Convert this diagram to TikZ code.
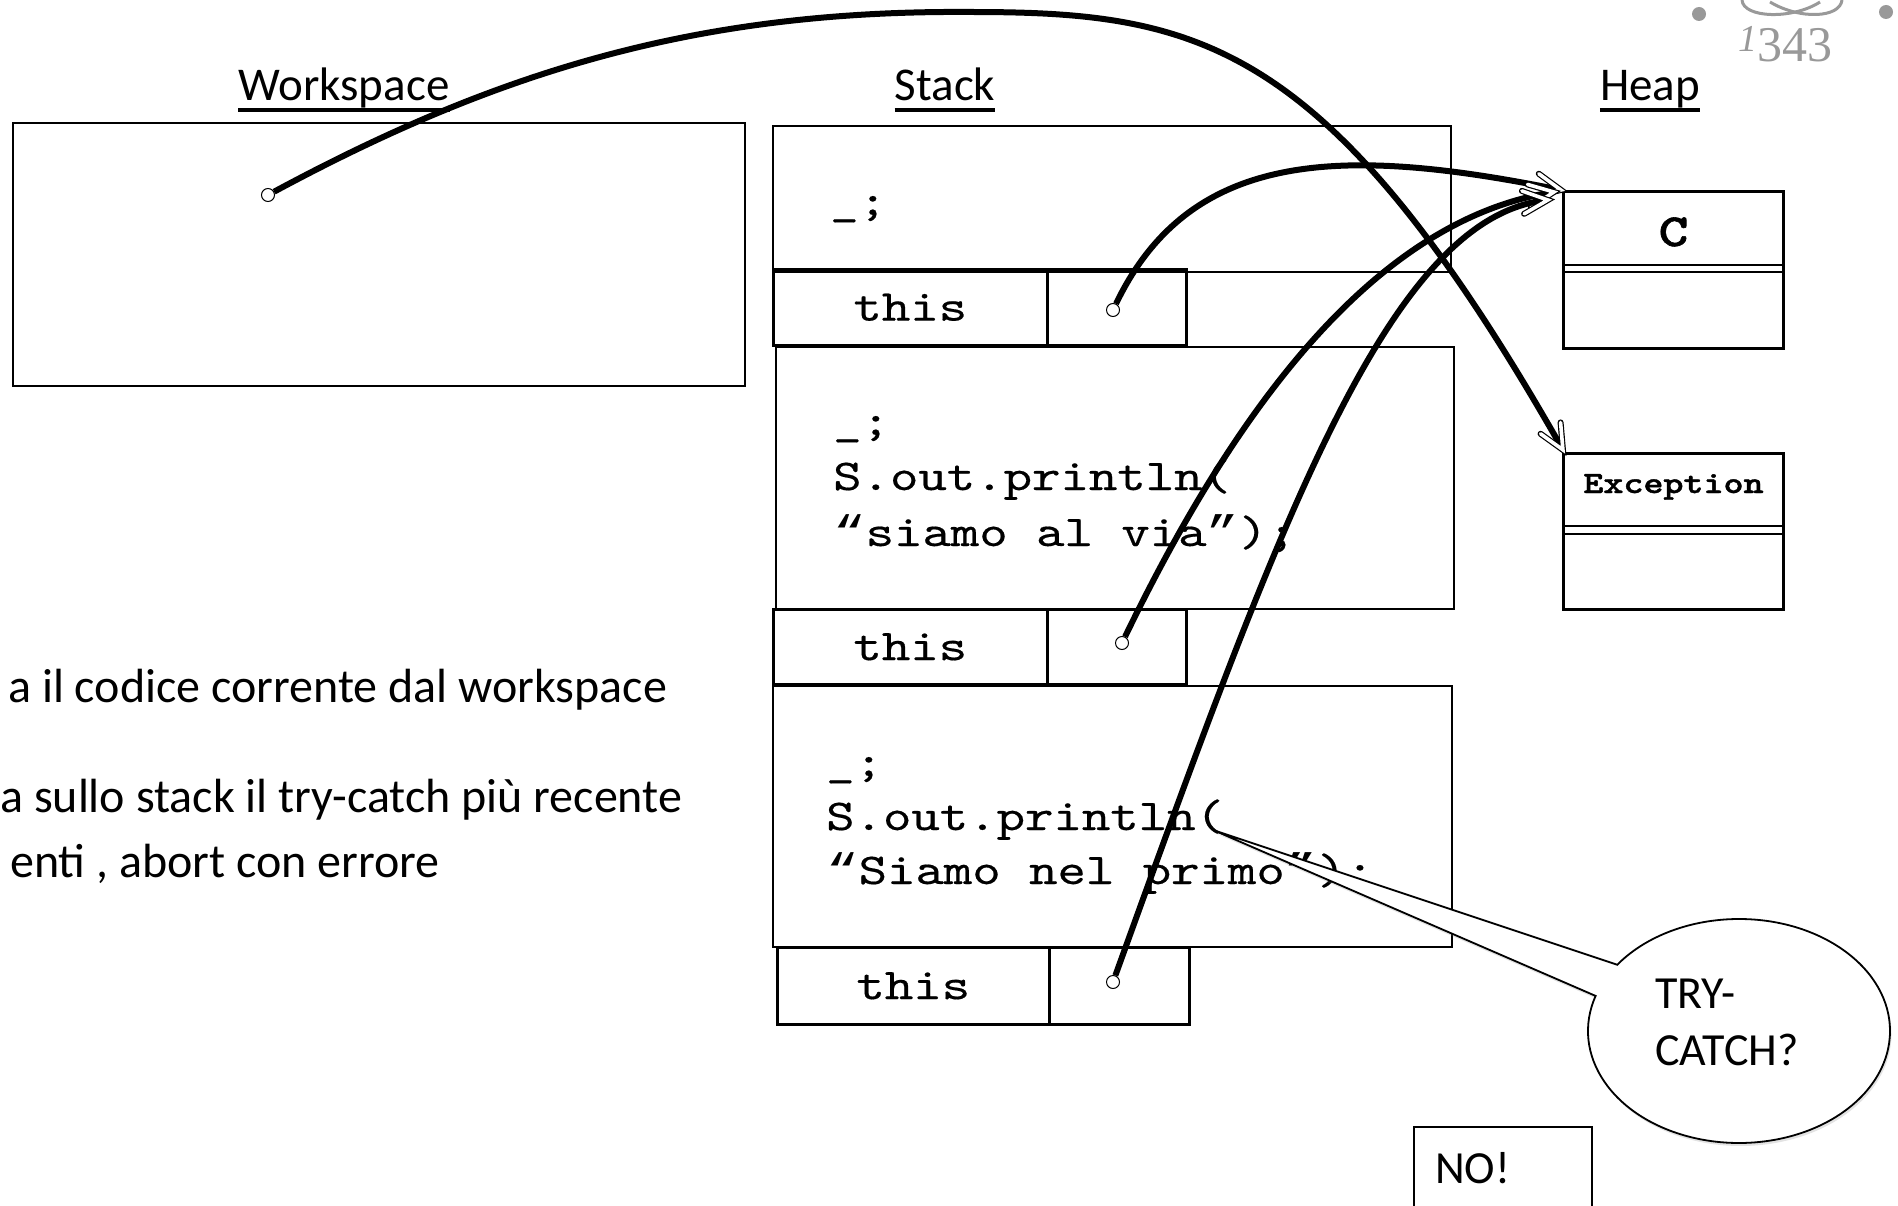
\documentclass[tikz,border=0pt]{standalone}
\usepackage{fontspec}
\setmainfont{Carlito}
\newfontfamily\numfont{Liberation Serif}
\newfontfamily\codefont{lmmono10-regular}[Extension=.otf, FakeBold=0.35]
\newfontfamily\codeboldfont{lmmonolt10-bold}[Extension=.otf, FakeBold=1.2]
\newfontfamily\quotefont{Liberation Mono}
\usetikzlibrary{calc,shapes.callouts,shadows,decorations.markings}

\definecolor{logogray}{gray}{0.6}

\newcommand\headsize{\fontsize{47}{56}\selectfont}
\newcommand\notesize{\fontsize{48}{57}\selectfont}
\newcommand\bubblesize{\fontsize{46}{55}\selectfont}
\newcommand\codesize{\codefont\fontsize{44}{55}\selectfont}
% typewriter text set a little wider
\newcommand\cw[1]{\scalebox{1.23}[1]{#1}}
\newcommand\oq{{\quotefont “}}
\newcommand\cq{{\quotefont ”}}

\tikzset{
  wsbox/.style={draw, line width=2.2pt, inner sep=0pt, anchor=north west},
  stackframe/.style={draw, line width=1.8pt, inner sep=0pt, anchor=north west},
  rowcell/.style={draw, line width=2.6pt, inner sep=0pt, anchor=north west, font=\codesize},
  heapbox/.style={draw, line width=3pt, inner sep=0pt, anchor=north west},
  ptrdot/.style={circle, draw, fill=white, line width=1pt, minimum size=13pt, inner sep=0pt},
  codeline/.style={anchor=base west, inner sep=0pt, font=\codesize},
  heading/.style={anchor=base, inner sep=0pt, font=\headsize},
  uline/.style={line width=4.5pt},
  sidenote/.style={anchor=base west, inner sep=0pt, font=\notesize},
  openhead/.style={line width=1.2pt, double=white, double distance=3.6pt,
    line cap=round, line join=miter},
  refline/.style={line width=6pt, postaction={decorate},
    decoration={markings, mark=at position 0.9999 with
      {\draw[openhead] (-25pt,11.5pt) -- (0pt,0pt) -- (-25pt,-11.5pt);}}},
}

\begin{document}
\begin{tikzpicture}[x=1pt,y=-1pt]
\useasboundingbox (0,0) rectangle (1898,1206);
\clip (0,0) rectangle (1898,1206);

% --- emblem in the corner ---
\fill[logogray] (1699,14) circle[radius=7];
\fill[logogray] (1886,12) circle[radius=7];
\draw[logogray, line width=3pt] (1742,0) .. controls (1743,18) and (1792,20) .. (1820,2);
\draw[logogray, line width=3pt] (1842,0) .. controls (1840,18) and (1800,20) .. (1770,2);
\node[anchor=base west, inner sep=0pt, text=logogray, font=\numfont\fontsize{50}{50}\selectfont]
  (year) at (1738,62) {{\fontsize{38}{38}\selectfont\itshape\raisebox{10pt}{1}}343};

% --- headings ---
\node[heading] (wstitle) at (344,101) {Workspace};
\node[heading] (sttitle) at (945,101) {Stack};
\node[heading] (hptitle) at (1650,101) {Heap};
\foreach \t in {wstitle,sttitle,hptitle}
  \draw[uline] ($(\t.base west)+(0,9)$) -- ($(\t.base east)+(0,9)$);

% --- workspace ---
\node[wsbox, minimum width=732pt, minimum height=263pt] (ws) at (12,122) {};
\node[ptrdot] (wsdot) at (268,195) {};

% --- stack frames ---
\node[stackframe, minimum width=678pt, minimum height=146pt] (f1) at (772,125) {};
\node[codeline] (f1a) at (830,215) {\cw{\_;}};
\node[rowcell, minimum width=274pt, minimum height=76pt] (t1) at (772,268) {\cw{this}};
\node[rowcell, minimum width=139pt, minimum height=76pt] (c1) at (1046,268) {};

\node[stackframe, minimum width=678pt, minimum height=262pt] (f2) at (775,346) {};
\node[codeline] (f2a) at (833,435) {\cw{\_;}};
\node[codeline] (f2b) at (833,490) {\cw{S.out.println(}};
\node[codeline] (f2c) at (833,546) {\cw{\oq siamo al via\cq);}};
\node[rowcell, minimum width=274pt, minimum height=75pt] (t2) at (772,608) {\cw{this}};
\node[rowcell, minimum width=139pt, minimum height=75pt] (c2) at (1046,608) {};

\node[stackframe, minimum width=679pt, minimum height=261pt] (f3) at (772,685) {};
\node[codeline] (f3a) at (826,776) {\cw{\_;}};
\node[codeline] (f3b) at (826,830) {\cw{S.out.println(}};
\node[codeline] (f3c) at (826,884) {\cw{\oq Siamo nel primo\cq);}};
\node[rowcell, minimum width=272pt, minimum height=77pt] (t3) at (776,946) {\cw{this}};
\node[rowcell, minimum width=140pt, minimum height=77pt] (c3) at (1048,946) {};

\node[ptrdot] (p1) at (1113,310) {};
\node[ptrdot] (p2) at (1122,643) {};
\node[ptrdot] (p3) at (1113,982) {};

% --- heap objects ---
\node[heapbox, minimum width=220pt, minimum height=157pt] (cbox) at (1562,190) {};
\draw[line width=2.4pt] ($(cbox.north west)+(0,75)$) -- ($(cbox.north east)+(0,75)$);
\draw[line width=2.4pt] ($(cbox.north west)+(0,82)$) -- ($(cbox.north east)+(0,82)$);
\node[anchor=base, inner sep=0pt, font=\codeboldfont\fontsize{46}{46}\selectfont]
  (cname) at ($(cbox.north)+(0,56)$) {\cw{C}};

\node[heapbox, minimum width=220pt, minimum height=156pt] (exc) at (1562,452) {};
\draw[line width=2.4pt] ($(exc.north west)+(0,74)$) -- ($(exc.north east)+(0,74)$);
\draw[line width=2.4pt] ($(exc.north west)+(0,82)$) -- ($(exc.north east)+(0,82)$);
\node[anchor=base, inner sep=0pt, font=\codeboldfont\fontsize{31}{31}\selectfont]
  (ename) at ($(exc.north)+(0,41)$) {\cw{Exception}};

% --- references ---
\coordinate (apex) at (970,12);
\draw[refline] (wsdot) .. controls (500,70) and (700,10) .. (apex)
  .. controls (1200,12) and (1330,40) .. ($(exc.north west)+(1,-2)$);
\draw[refline] (p1) .. controls (1190,150) and (1340,145) .. ($(cbox.north west)+(-1,0)$);
\draw[refline] (p2) .. controls (1230,420) and (1370,220) .. ($(cbox.north west)+(-8,2)$);
\draw[refline] (p3) .. controls (1280,520) and (1390,215) .. ($(cbox.north west)+(-14,10)$);

% --- side notes ---
\node[sidenote] (n1) at (8,702) {a il codice corrente dal workspace};
\node[sidenote] (n2) at (0,812) {a sullo stack il try-catch più recente};
\node[sidenote] (n3) at (10,877) {enti , abort con errore};

% --- callout ---
\coordinate (tailtip) at (1213,830);
\node[ellipse callout, draw, fill=white, line width=1.8pt, inner sep=0pt,
  minimum width=302pt, minimum height=224pt,
  callout absolute pointer={(tailtip)}, callout pointer arc=18,
  drop shadow={opacity=0.22, shadow xshift=1.5pt, shadow yshift=-3pt}]
  (bubble) at (1739,1031) {};
\node[anchor=base west, inner sep=0pt, font=\bubblesize] (try1) at (1655,1008) {TRY-};
\node[anchor=base west, inner sep=0pt, font=\bubblesize] (try2) at (1655,1065) {CATCH?};

% --- answer box ---
\node[wsbox, line width=2pt, minimum width=178pt, minimum height=110pt] (nobox) at (1413,1126) {};
\node[anchor=base west, inner sep=0pt, font=\bubblesize] (notext) at (1435,1183) {NO!};
\end{tikzpicture}
\end{document}
